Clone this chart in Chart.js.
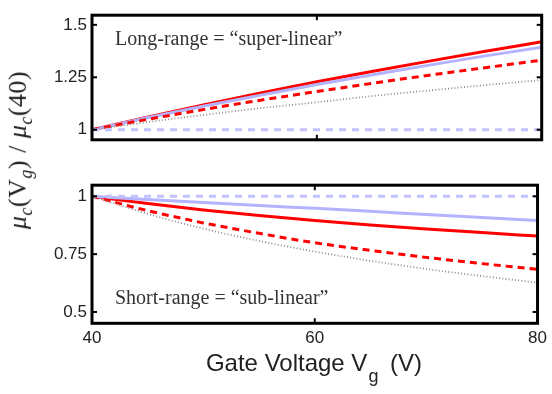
<!DOCTYPE html>
<html>
<head>
<meta charset="utf-8">
<script src="https://cdn.jsdelivr.net/npm/chart.js@4/dist/chart.umd.min.js"></script>
<style>
  html, body { margin:0; padding:0; background:#fff; }
  #wrap { position:relative; width:552px; height:394px; overflow:hidden; }
  canvas { position:absolute; left:0; }
  #ylab { position:absolute; left:20px; top:150px; transform:translate(-50%,-50%) rotate(-90deg);
          font-family:"Liberation Serif","DejaVu Serif",serif; font-size:26px; color:#222; white-space:nowrap; letter-spacing:0.5px; }
  #ylab sub { font-size:18px; }
  #xlab { position:absolute; left:314px; top:350px; transform:translateX(-50%);
          font-family:"Liberation Sans",Arial,sans-serif; font-size:24px; color:#222; white-space:nowrap; line-height:26px; }
  #xlab sub { font-size:18px; vertical-align:-11px; margin-left:1px; margin-right:5px; }
</style>
</head>
<body>
<div id="wrap">
  <canvas id="cTop" width="552" height="155" style="top:0"></canvas>
  <canvas id="cBot" width="552" height="224" style="top:170px"></canvas>
  <div id="ylab"><i>μ<sub>c</sub></i>(V<sub><i>g</i></sub>) / <i>μ<sub>c</sub></i>(40)</div>
  <div id="xlab">Gate Voltage V<sub>g</sub> (V)</div>
</div>
<script>
// ---- data ----
const gateVoltage = [40, 45, 50, 55, 60, 65, 70, 75, 80];

// top panel: long-range scattering ("super-linear")
const topRedSolid   = [1, 1.061, 1.119, 1.175, 1.229, 1.279, 1.327, 1.374, 1.419];
const topBlueSolid  = [1, 1.058, 1.113, 1.165, 1.216, 1.262, 1.308, 1.352, 1.393];
const topRedDashed  = [1, 1.050, 1.097, 1.141, 1.182, 1.222, 1.260, 1.296, 1.332];
const topGreyDotted = [1, 1.037, 1.071, 1.103, 1.131, 1.161, 1.187, 1.213, 1.237];
const topBlueDashed = [1, 1, 1, 1, 1, 1, 1, 1, 1];

// bottom panel: short-range scattering ("sub-linear")
const botRedSolid   = [1, 0.969, 0.941, 0.917, 0.895, 0.876, 0.859, 0.843, 0.828];
const botBlueSolid  = [1, 0.986, 0.973, 0.960, 0.948, 0.935, 0.921, 0.908, 0.895];
const botRedDashed  = [1, 0.938, 0.885, 0.840, 0.799, 0.766, 0.736, 0.709, 0.684];
const botGreyDotted = [1, 0.924, 0.860, 0.807, 0.761, 0.721, 0.686, 0.655, 0.627];
const botBlueDashed = [1, 1, 1, 1, 1, 1, 1, 1, 1];

const xTicks = [40, 60, 80];
const topYTicks = [1, 1.25, 1.5];
const botYTicks = [0.5, 0.75, 1];
const topLabel = "Long-range = \u201csuper-linear\u201d";
const botLabel = "Short-range = \u201csub-linear\u201d";

// ---- helpers ----
const pts = (ys) => gateVoltage.map((x, i) => ({x: x, y: ys[i]}));
const RED = '#ff0000', LBLUE = '#b3b3ff', GREY = '#8c8c8c';

function datasets(rs, bs, rd, gd, bd) {
  const base = {pointRadius:0, fill:false, cubicInterpolationMode:'monotone', borderCapStyle:'butt'};
  return [
    Object.assign({label:'bd', data:pts(bd), borderColor:'#c2c2ff', borderWidth:3, borderDash:[7,6]}, base),
    Object.assign({label:'gd', data:pts(gd), borderColor:GREY, borderWidth:1.8, borderDash:[1,2.2]}, base),
    Object.assign({label:'rd', data:pts(rd), borderColor:RED, borderWidth:3, borderDash:[7,5]}, base),
    Object.assign({label:'bs', data:pts(bs), borderColor:LBLUE, borderWidth:3}, base),
    Object.assign({label:'rs', data:pts(rs), borderColor:RED, borderWidth:3}, base)
  ];
}

function framePlugin(textLabel, textY) {
  return {
    id:'frame',
    afterDatasetsDraw(chart) {
      const {ctx, chartArea:a, scales} = chart;
      ctx.save();
      ctx.strokeStyle = '#000';
      ctx.lineWidth = 2;
      const ys = scales.y;
      ys.ticks.forEach(t => {
        const p = ys.getPixelForValue(t.value);
        ctx.beginPath(); ctx.moveTo(a.left, p); ctx.lineTo(a.left + 5, p); ctx.stroke();
        ctx.beginPath(); ctx.moveTo(a.right, p); ctx.lineTo(a.right - 5, p); ctx.stroke();
      });
      const xs = scales.x;
      xTicks.forEach(v => {
        const p = xs.getPixelForValue(v);
        ctx.beginPath(); ctx.moveTo(p, a.top); ctx.lineTo(p, a.top + 5); ctx.stroke();
        ctx.beginPath(); ctx.moveTo(p, a.bottom); ctx.lineTo(p, a.bottom - 5); ctx.stroke();
      });
      ctx.lineWidth = 3;
      ctx.strokeRect(a.left, a.top, a.right - a.left, a.bottom - a.top);
      ctx.fillStyle = '#333';
      ctx.font = '20px "Liberation Serif", "DejaVu Serif", serif';
      ctx.textBaseline = 'alphabetic';
      ctx.textAlign = 'left';
      ctx.fillText(textLabel, a.left + 23, textY);
      ctx.restore();
    }
  };
}

function makeChart(id, ds, yMin, yMax, yTicks, showX, pad, textLabel, textY) {
  return new Chart(document.getElementById(id), {
    type:'line',
    data:{datasets:ds},
    options:{
      responsive:false, animation:false, devicePixelRatio:1,
      layout:{padding:pad},
      plugins:{legend:{display:false}, tooltip:{enabled:false}},
      scales:{
        x:{
          type:'linear', min:40, max:80, display:showX,
          grid:{display:false, drawTicks:false}, border:{display:false},
          afterBuildTicks:(s) => { s.ticks = xTicks.map(v => ({value:v})); },
          afterFit:(s) => { if (showX) s.height = 70.7; },
          ticks:{color:'#222', padding:5, maxRotation:0, font:{family:'"Liberation Sans", Arial, sans-serif', size:17}}
        },
        y:{
          type:'linear', min:yMin, max:yMax,
          grid:{display:false, drawTicks:false}, border:{display:false},
          afterBuildTicks:(s) => { s.ticks = yTicks.map(v => ({value:v})); },
          afterFit:(s) => { s.width = 92; },
          ticks:{color:'#222', padding:5, callback:(v) => String(v), font:{family:'"Liberation Sans", Arial, sans-serif', size:17}}
        }
      }
    },
    plugins:[framePlugin(textLabel, textY)]
  });
}

makeChart('cTop', datasets(topRedSolid, topBlueSolid, topRedDashed, topGreyDotted, topBlueDashed),
  0.952, 1.546, topYTicks, false, {top:5, right:10.3, bottom:11, left:0}, topLabel, 45);
makeChart('cBot', datasets(botRedSolid, botBlueSolid, botRedDashed, botGreyDotted, botBlueDashed),
  0.451, 1.048, botYTicks, true, {top:12.7, right:10.3, bottom:0, left:0}, botLabel, 134);
</script>
</body>
</html>
